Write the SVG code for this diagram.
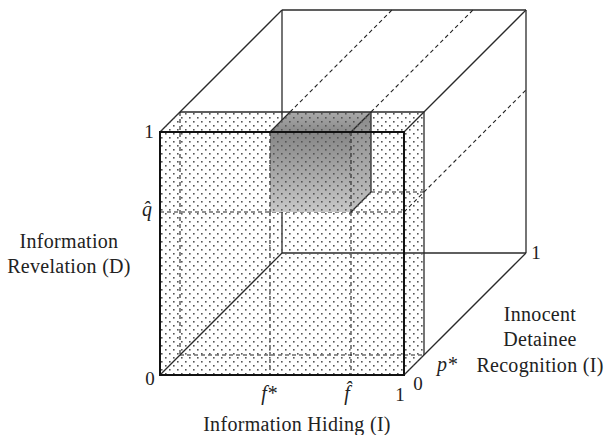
<svg xmlns="http://www.w3.org/2000/svg" width="604" height="435" viewBox="0 0 604 435">
<style>
.edge{fill:none;stroke:#2a2a2a;stroke-width:1.3}
.front{fill:none;stroke:#111;stroke-width:2}
.dash{fill:none;stroke:#222;stroke-width:1.1;stroke-dasharray:4 3}
.lbl{font-family:"Liberation Serif",serif;font-size:20px;letter-spacing:0.3px;fill:#222}
.num{font-family:"Liberation Serif",serif;font-size:19px;fill:#222}
.var{font-family:"Liberation Serif",serif;font-size:20px;font-style:italic;fill:#222}
</style>
<defs>
<pattern id="dots" width="8" height="8" patternUnits="userSpaceOnUse">
<rect x="1" y="1" width="1.6" height="1.6" fill="#555"/>
<rect x="5" y="5" width="1.6" height="1.6" fill="#555"/>
</pattern>
<linearGradient id="gFront" x1="0" y1="0" x2="0" y2="1">
<stop offset="0" stop-color="#868686"/>
<stop offset="1" stop-color="#c8c8c8"/>
</linearGradient>
<linearGradient id="gSide" x1="0" y1="0" x2="0" y2="1">
<stop offset="0" stop-color="#8a8a8a"/>
<stop offset="1" stop-color="#c2c2c2"/>
</linearGradient>
<linearGradient id="gTop" x1="0" y1="0" x2="0" y2="1">
<stop offset="0" stop-color="#aaaaaa"/>
<stop offset="1" stop-color="#8a8a8a"/>
</linearGradient>
</defs>

<g id="connectors">
<line class="edge" x1="282" y1="10" x2="526" y2="10"/>
<line class="edge" x1="282" y1="10" x2="282" y2="253"/>
<line class="edge" x1="526" y1="10" x2="526" y2="253"/>
<line class="edge" x1="282" y1="253" x2="526" y2="253"/>
<line class="edge" x1="160" y1="132" x2="282" y2="10"/>
<line class="edge" x1="404" y1="132" x2="526" y2="10"/>
<line class="edge" x1="160" y1="375" x2="282" y2="253"/>
<line class="edge" x1="404" y1="375" x2="526" y2="253"/>
<line class="dash" x1="290" y1="112" x2="392" y2="10"/>
<line class="dash" x1="371" y1="112" x2="473" y2="10"/>
<line class="dash" x1="404" y1="212" x2="526" y2="90"/>
</g>

<g id="slab">
<line class="dash" x1="180" y1="112" x2="180" y2="355"/>
<line class="dash" x1="180" y1="355" x2="424" y2="355"/>
<line class="dash" x1="160" y1="212" x2="404" y2="212"/>
<line class="dash" x1="371" y1="192" x2="424" y2="192"/>
<line class="dash" x1="270" y1="212" x2="270" y2="375"/>
<line class="dash" x1="351" y1="212" x2="351" y2="375"/>
</g>

<g id="shaded-box">
<polygon points="270,132 351,132 371,112 290,112" fill="url(#gTop)"/>
<polygon points="351,132 371,112 371,192 351,212" fill="url(#gSide)"/>
<rect x="270" y="132" width="81" height="80" fill="url(#gFront)"/>
<line class="dash" x1="270" y1="132" x2="270" y2="212"/>
<line class="dash" x1="351" y1="132" x2="351" y2="212"/>
<line class="edge" x1="270" y1="132" x2="290" y2="112"/>
<line class="edge" x1="351" y1="132" x2="371" y2="112"/>
<line class="edge" x1="371" y1="112" x2="371" y2="192"/>
<line class="edge" x1="351" y1="212" x2="371" y2="192"/>
</g>

<g id="slab-surface">
<polygon points="160,132 180,112 424,112 424,355 404,375 160,375" fill="url(#dots)"/>
<line class="edge" x1="180" y1="112" x2="424" y2="112"/>
<line class="edge" x1="424" y1="112" x2="424" y2="355"/>
<rect class="front" x="160" y="132" width="244" height="243"/>
</g>

<g id="labels">
<text class="num" x="149" y="138" text-anchor="middle">1</text>
<text class="var" x="147" y="216" text-anchor="middle">q&#x302;</text>
<text class="num" x="150" y="385" text-anchor="middle">0</text>
<text class="var" x="269" y="400" text-anchor="middle">f*</text>
<text class="var" x="347" y="400" text-anchor="middle">f&#x302;</text>
<text class="num" x="400" y="401" text-anchor="middle">1</text>
<text class="num" x="418" y="390" text-anchor="middle">0</text>
<text class="var" x="437" y="371">p*</text>
<text class="num" x="536" y="259" text-anchor="middle">1</text>
<text class="lbl" x="69" y="248" text-anchor="middle">Information</text>
<text class="lbl" x="69" y="273" text-anchor="middle">Revelation (D)</text>
<text class="lbl" x="297" y="431" text-anchor="middle">Information Hiding (I)</text>
<text class="lbl" x="540" y="321" text-anchor="middle">Innocent</text>
<text class="lbl" x="540" y="346" text-anchor="middle">Detainee</text>
<text class="lbl" x="540" y="372" text-anchor="middle">Recognition (I)</text>
</g>
</svg>
